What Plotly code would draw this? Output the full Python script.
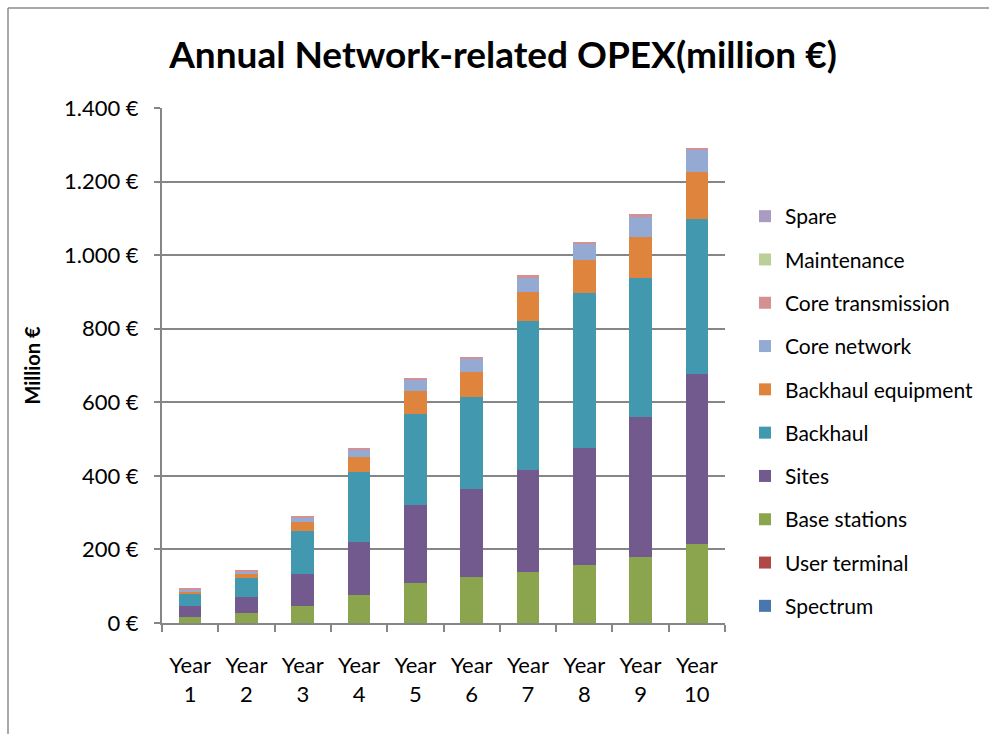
import plotly.graph_objects as go

# Annual network-related OPEX per cost item, million €
years = ["Year<br>1", "Year<br>2", "Year<br>3", "Year<br>4", "Year<br>5",
         "Year<br>6", "Year<br>7", "Year<br>8", "Year<br>9", "Year<br>10"]

spectrum = [0, 0, 0, 0, 0, 0, 0, 0, 0, 0]
user_terminal = [0, 0, 0, 0, 0, 0, 0, 0, 0, 0]
base_stations = [16, 26, 45, 77, 108, 124, 138, 158, 179, 215]
sites = [30, 46, 88, 143, 214, 240, 277, 319, 380, 463]
backhaul = [32, 51, 118, 191, 247, 251, 406, 421, 380, 419]
backhaul_equipment = [8, 9, 24, 41, 61, 68, 78, 88, 109, 128]
core_network = [4, 6, 12, 20, 31, 35, 41, 45, 57, 62]
core_transmission = [3, 6, 5, 5, 5, 5, 5, 5, 6, 5]
maintenance = [0, 0, 0, 0, 0, 0, 0, 0, 0, 0]
spare = [0, 0, 0, 0, 0, 0, 0, 0, 0, 0]

tick_vals = [0, 200, 400, 600, 800, 1000, 1200, 1400]
tick_text = ["0 €", "200 €", "400 €", "600 €", "800 €", "1.000 €", "1.200 €", "1.400 €"]

# stacked bottom to top
series = [
    ("Spectrum", spectrum, "#4A76AE"),
    ("User terminal", user_terminal, "#B04845"),
    ("Base stations", base_stations, "#8AA54D"),
    ("Sites", sites, "#725A8E"),
    ("Backhaul", backhaul, "#4298AF"),
    ("Backhaul equipment", backhaul_equipment, "#DE843C"),
    ("Core network", core_network, "#95AAD2"),
    ("Core transmission", core_transmission, "#D59191"),
    ("Maintenance", maintenance, "#BBD098"),
    ("Spare", spare, "#AA9BC3"),
]

FONT = "Lato"
W, H = 989, 734
L, R, T, B = 162, 264, 108, 111

fig = go.Figure()
n = len(series)
for i, (name, vals, color) in enumerate(series):
    fig.add_trace(go.Bar(
        x=years, y=vals, name=name, legendgroup=name,
        legendrank=n - i,
        marker=dict(color=color, line=dict(width=0)),
    ))

plot_w = W - L - R
plot_h = H - T - B

def px_x(p):
    return (p - L) / plot_w

def px_y(p):
    return (H - B - p) / plot_h

frame = dict(xref="paper", yref="paper", line=dict(color="#8C8C8C", width=1.5),
             layer="below")

fig.update_layout(
    width=W, height=H,
    margin=dict(l=L, r=R, t=T, b=B, autoexpand=False),
    barmode="stack", bargap=0.6,
    paper_bgcolor="white", plot_bgcolor="white",
    font=dict(family=FONT, size=21, color="#000000"),
    title=dict(
        text="<b>Annual Network-related OPEX(million €)</b>",
        x=503 / W, xanchor="center", y=1 - 55 / H, yanchor="middle",
        font=dict(family=FONT, size=37, color="#000000"),
    ),
    xaxis=dict(
        showline=True, linecolor="#868686", linewidth=2,
        ticks="outside", ticklen=7, tickcolor="#868686", tickwidth=2,
        tickson="boundaries", showgrid=False,
        tickfont=dict(family=FONT, size=22, color="#000000"),
        ticklabelstandoff=22,
    ),
    yaxis=dict(
        range=[0, 1400], tickvals=tick_vals, ticktext=tick_text,
        showline=True, linecolor="#868686", linewidth=2,
        ticks="outside", ticklen=6, tickcolor="#868686", tickwidth=2,
        showgrid=True, gridcolor="#868686", gridwidth=1.8,
        zeroline=False,
        tickfont=dict(family=FONT, size=22, color="#000000"),
        ticklabelstandoff=11,
        title=dict(text="<b>Million €</b>", standoff=18,
                   font=dict(family=FONT, size=20, color="#000000")),
    ),
    legend=dict(
        traceorder="grouped", tracegroupgap=13,
        x=px_x(745), xanchor="left", y=px_y(196), yanchor="top",
        font=dict(family=FONT, size=21, color="#000000"),
        bgcolor="rgba(0,0,0,0)", itemclick=False,
    ),
    shapes=[
        dict(type="line", x0=px_x(8), x1=px_x(1100), y0=px_y(8), y1=px_y(8), **frame),
        dict(type="line", x0=px_x(8), x1=px_x(8), y0=px_y(8), y1=px_y(800), **frame),
    ],
)

fig.write_html("out.html")
